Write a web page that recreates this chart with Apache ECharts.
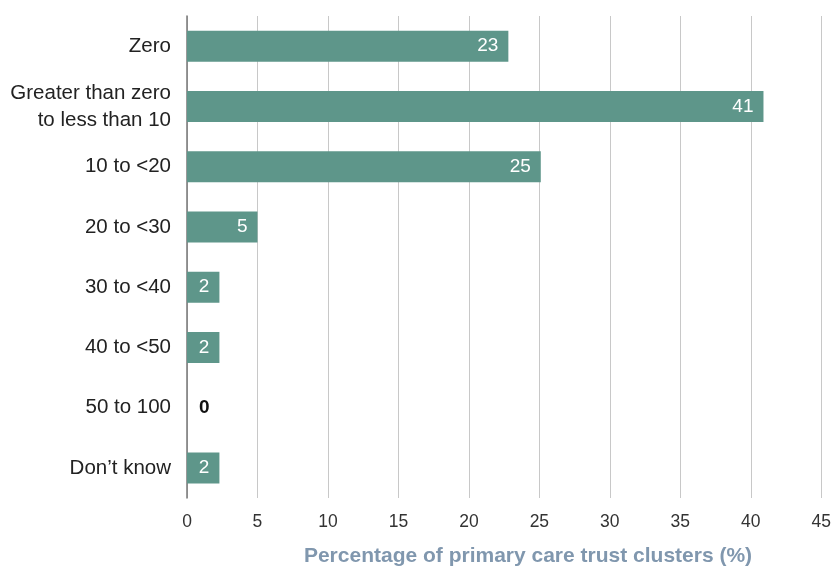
<!DOCTYPE html>
<html>
<head>
<meta charset="utf-8">
<script src="https://cdn.jsdelivr.net/npm/echarts@6/dist/echarts.min.js"></script>
<style>html,body{margin:0;padding:0;background:#fff}#c{width:834px;height:570px}</style>
</head>
<body>
<div id="c"></div>
<script>
const categories = ["Zero", "Greater than zero\nto less than 10", "10 to <20", "20 to <30", "30 to <40", "40 to <50", "50 to 100", "Don\u2019t know"];
const values = [22.8, 40.9, 25.1, 5.0, 2.3, 2.3, 0, 2.3];
const xTicks = [0, 5, 10, 15, 20, 25, 30, 35, 40, 45];
const axisTitle = "Percentage of primary care trust clusters (%)";

const FONT = "'Liberation Sans', Arial, sans-serif";
const chart = echarts.init(document.getElementById('c'), null, {renderer: 'canvas'});
chart.setOption({
  animation: false,
  grid: {left: 187, right: 12, top: 16, bottom: 72, containLabel: false},
  xAxis: {
    type: 'value', min: xTicks[0], max: xTicks[xTicks.length - 1], interval: 5,
    axisLine: {show: false}, axisTick: {show: false},
    splitLine: {show: true, lineStyle: {color: '#c8c8c8', width: 1}},
    axisLabel: {color: '#333', fontSize: 17.5, fontFamily: FONT, margin: 15}
  },
  yAxis: {
    type: 'category', data: categories, inverse: true,
    axisLine: {show: true, lineStyle: {color: '#777', width: 1.5}},
    axisTick: {show: false},
    axisLabel: {color: '#222', fontSize: 20.5, fontFamily: FONT, margin: 16, lineHeight: 27, align: 'right'}
  },
  series: [{
    type: 'bar', barWidth: 31,
    itemStyle: {color: '#5e968a'},
    data: values.map(v => v === 0 ? {value: v, label: {position: 'right', distance: 12, color: '#111', fontWeight: 'bold'}} : v),
    label: {
      show: true, position: 'insideRight', distance: 10, color: '#fff',
      fontSize: 19, fontFamily: FONT,
      formatter: p => Math.round(p.value)
    }
  }],
  graphic: [{
    type: 'text', x: 528, y: 556,
    style: {text: axisTitle, fill: '#8097ae', font: "bold 21px " + FONT, align: 'center', verticalAlign: 'middle'}
  }]
});
</script>
</body>
</html>
